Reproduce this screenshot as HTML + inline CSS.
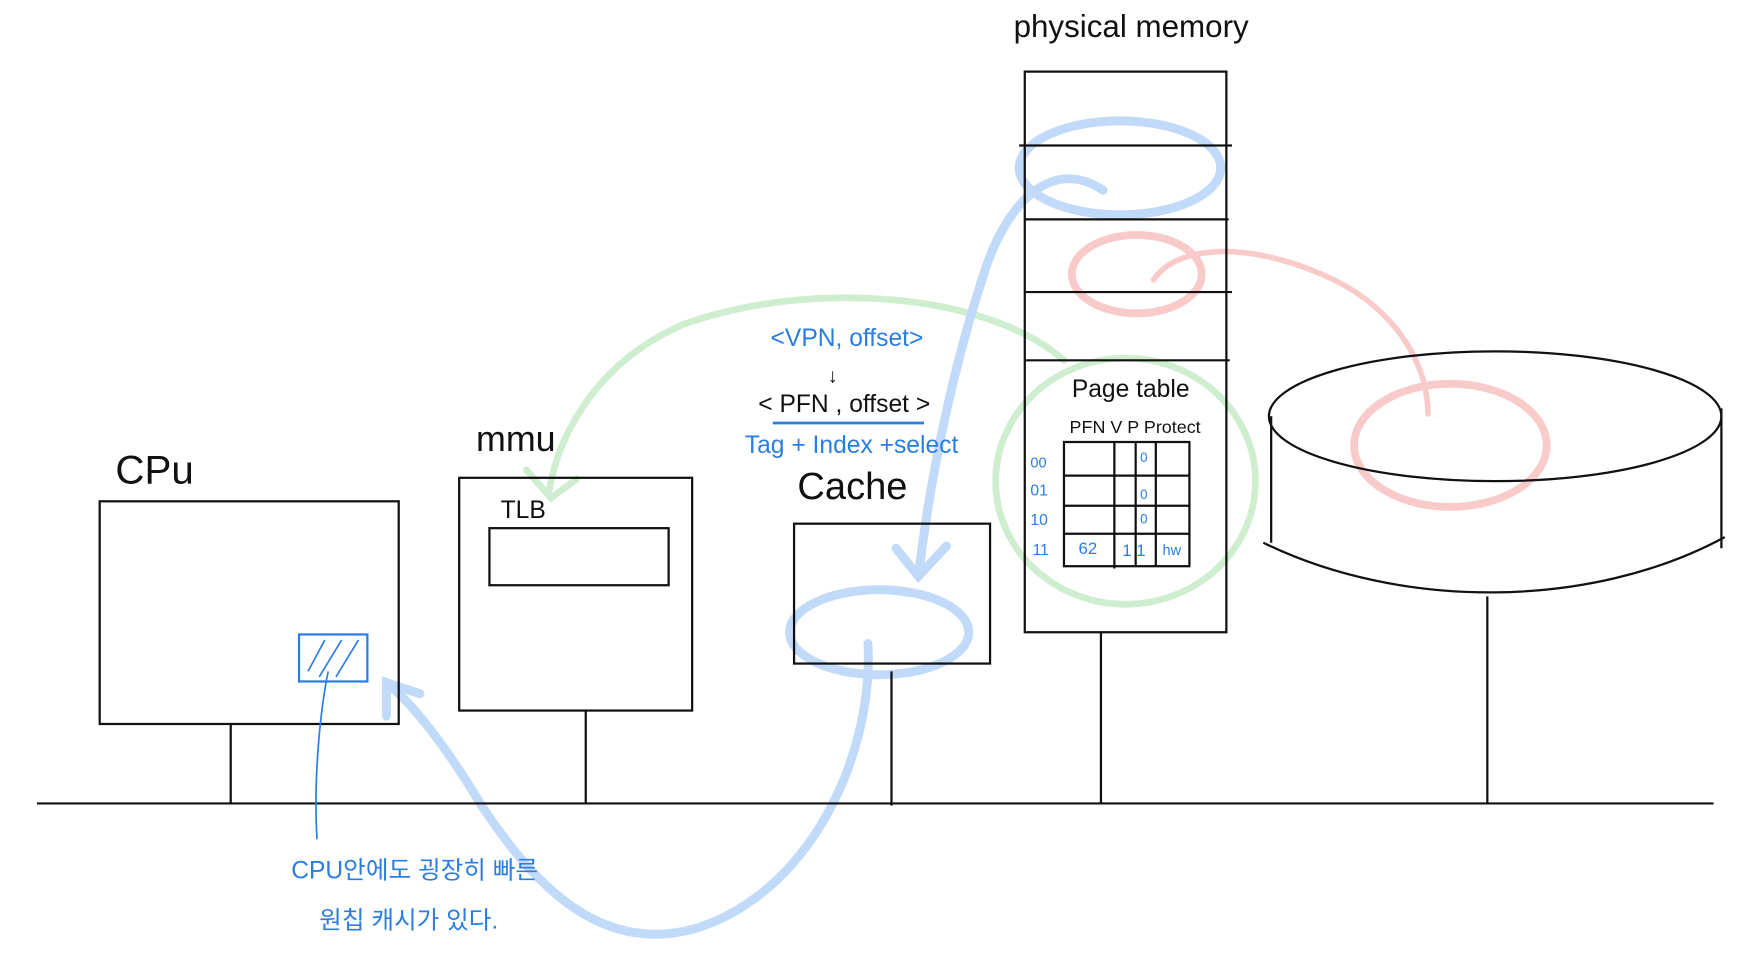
<!DOCTYPE html>
<html><head><meta charset="utf-8"><style>
html,body{margin:0;padding:0;background:#fff;width:1755px;height:978px;overflow:hidden}
svg{display:block}
text{font-family:"Liberation Sans","Noto Sans CJK KR",sans-serif}
</style></head><body>
<svg width="1755" height="978" viewBox="0 0 1567 874" preserveAspectRatio="none" xmlns="http://www.w3.org/2000/svg">
<rect width="1567" height="874" fill="#fff"/>
<g fill="none" stroke-linecap="round" opacity="0.55">
 <path d="M950,322 C880,260 720,250 610,290 C540,320 500,380 490,440" stroke="#a8e0a8" stroke-width="6"/>
 <path d="M470,420 L492,445 L515,428" stroke="#a8e0a8" stroke-width="6"/>
 <ellipse cx="1005" cy="430" rx="116" ry="110" stroke="#a8e0a8" stroke-width="6"/>
 <ellipse cx="1000" cy="150" rx="90" ry="42" stroke="#8fbcf5" stroke-width="8"/>
 <path d="M985,170 C940,140 900,180 880,240 C850,330 830,430 820,515" stroke="#8fbcf5" stroke-width="8"/>
 <path d="M800,490 L820,515 L845,488" stroke="#8fbcf5" stroke-width="8"/>
 <ellipse cx="785" cy="565" rx="80" ry="38" stroke="#8fbcf5" stroke-width="8"/>
 <path d="M775,575 C780,680 720,800 620,830 C530,855 470,780 430,720 C400,670 370,630 345,610" stroke="#8fbcf5" stroke-width="8"/>
 <path d="M345,640 L345,610 L375,620" stroke="#8fbcf5" stroke-width="8"/>
 <ellipse cx="1015" cy="245" rx="58" ry="35" stroke="#f5a0a0" stroke-width="7"/>
 <path d="M1030,250 C1050,220 1110,215 1180,245 C1240,270 1275,320 1275,370" stroke="#f5a0a0" stroke-width="5"/>
 <ellipse cx="1295" cy="398" rx="86" ry="55" stroke="#f5a0a0" stroke-width="7"/>
</g>
<g stroke="#111" stroke-width="2" fill="none">
 <line x1="33" y1="718" x2="1530" y2="718"/>
 <rect x="89" y="448" width="267" height="199"/>
 <line x1="206" y1="647" x2="206" y2="718"/>
 <rect x="410" y="427" width="208" height="208"/>
 <rect x="437" y="472" width="160" height="51"/>
 <line x1="523" y1="635" x2="523" y2="718"/>
 <rect x="709" y="468" width="175" height="125"/>
 <line x1="796" y1="600" x2="796" y2="720"/>
 <rect x="915" y="64" width="180" height="501"/>
 <line x1="910" y1="130" x2="1100" y2="130"/>
 <line x1="915" y1="196" x2="1097" y2="196"/>
 <line x1="915" y1="261" x2="1100" y2="261"/>
 <line x1="915" y1="322" x2="1098" y2="322"/>
 <line x1="983" y1="565" x2="983" y2="718"/>
 <rect x="950" y="395" width="112" height="111"/>
 <line x1="995" y1="395" x2="995" y2="508"/>
 <line x1="1014" y1="395" x2="1014" y2="506"/>
 <line x1="1032" y1="395" x2="1032" y2="506"/>
 <line x1="950" y1="425" x2="1062" y2="425"/>
 <line x1="950" y1="452" x2="1062" y2="452"/>
 <line x1="950" y1="477" x2="1062" y2="477"/>
 <ellipse cx="1335" cy="372" rx="202" ry="58"/>
 <line x1="1135" y1="372" x2="1135" y2="485"/>
 <line x1="1537" y1="365" x2="1537" y2="490"/>
 <path d="M1128,485 C1250,545 1420,545 1540,480"/>
 <line x1="1328" y1="533" x2="1328" y2="718"/>
</g>
<rect x="267" y="567" width="61" height="42" fill="none" stroke="#2a7de1" stroke-width="2"/>
<g stroke="#2a7de1" stroke-width="1.5">
 <line x1="275" y1="600" x2="290" y2="572"/><line x1="285" y1="605" x2="305" y2="572"/><line x1="300" y1="605" x2="320" y2="572"/>
 <path d="M293,600 C285,640 280,700 283,750" fill="none"/>
 <line x1="690" y1="378" x2="825" y2="378" stroke-width="2.5"/>
</g>
<g fill="#111">
 <text x="103" y="432" font-size="36">CPu</text>
 <text x="425" y="403" font-size="32">mmu</text>
 <text x="447" y="463" font-size="22">TLB</text>
 <text x="712" y="446" font-size="34">Cache</text>
 <text x="905" y="33" font-size="28">physical memory</text>
 <text x="957" y="355" font-size="22">Page table</text>
 <text x="955" y="387" font-size="16">PFN  V  P Protect</text>
 <text x="677" y="368" font-size="22">&lt; PFN , offset &gt;</text>
 <text x="739" y="342" font-size="18">↓</text>
</g>
<g fill="#2a7de1">
 <text x="688" y="309" font-size="22">&lt;VPN, offset&gt;</text>
 <text x="665" y="405" font-size="22">Tag + Index +select</text>
 <text x="920" y="418" font-size="13">00</text>
 <text x="920" y="443" font-size="14">01</text>
 <text x="920" y="469" font-size="14">10</text>
 <text x="922" y="496" font-size="14">11</text>
 <text x="1018" y="413" font-size="12">0</text>
 <text x="1018" y="446" font-size="12">0</text>
 <text x="1018" y="468" font-size="12">0</text>
 <text x="963" y="495" font-size="15">62</text>
 <text x="1002" y="497" font-size="15">1 1</text>
 <text x="1038" y="496" font-size="13">hw</text>
 <text x="260" y="785" font-size="22">CPU안에도 굉장히 빠른</text>
 <text x="285" y="830" font-size="22">원칩 캐시가 있다.</text>
</g>
</svg>
</body></html>
